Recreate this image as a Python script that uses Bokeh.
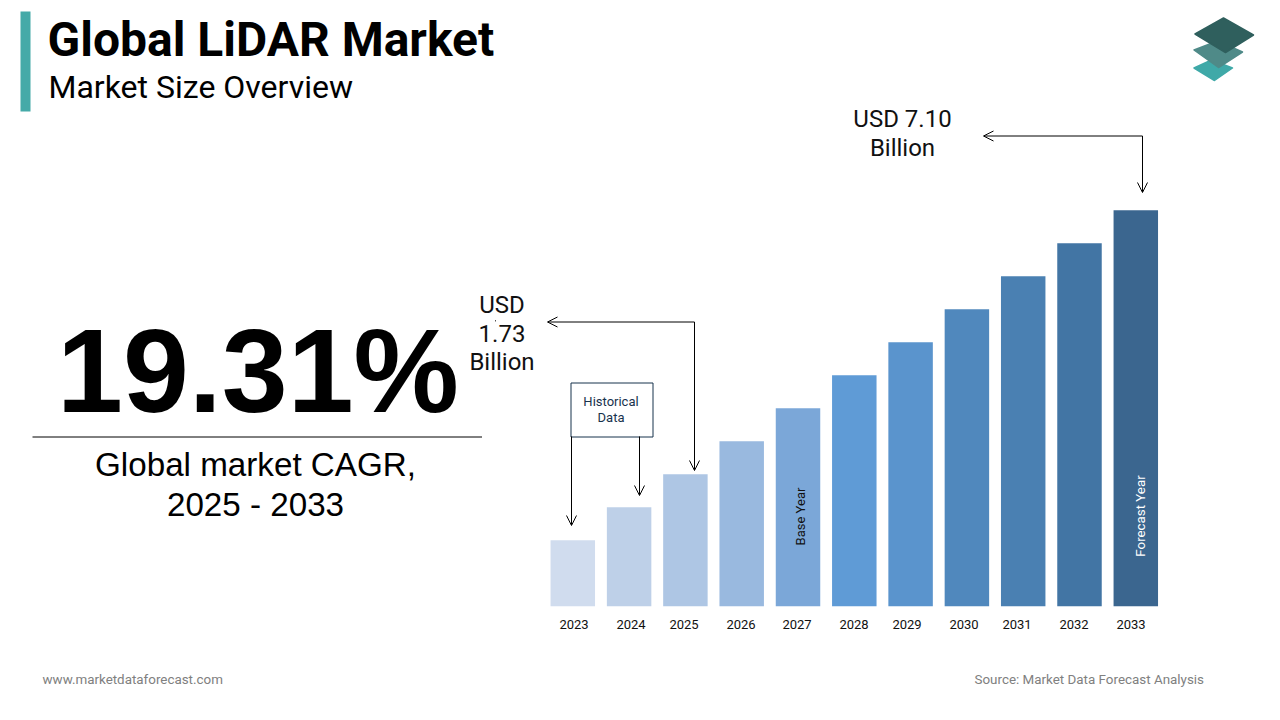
from bokeh.plotting import figure
from bokeh.models import Range1d, Arrow, OpenHead
from bokeh.core.properties import value
from bokeh.embed import file_html
from bokeh.resources import INLINE
import math

years = [2023, 2024, 2025, 2026, 2027, 2028, 2029, 2030, 2031, 2032, 2033]
bar_heights = [2, 3, 4, 5, 6, 7, 8, 9, 10, 11, 12]
bar_colors = ["#d0dcee", "#bed0e8", "#aec6e4", "#99b9df", "#7ba7d8", "#5f9bd6",
              "#5a94cd", "#5088bd", "#4a80b2", "#4275a4", "#3b668f"]
year_labels = [str(y) for y in years]
year_label_x = [573.5, 630.5, 683.5, 740.5, 796.5, 853.5, 906.5, 963.5, 1016.5, 1073.5, 1130.5]

title = "Global LiDAR Market"
subtitle = "Market Size Overview"
cagr = "19.31%"
cagr_lines = ["Global market CAGR,", "2025 - 2033"]
start_lines = ["USD", "1.73", "Billion"]
end_lines = ["USD 7.10", "Billion"]
hist_lines = ["Historical", "Data"]
footer_left = "www.marketdataforecast.com"
footer_right = "Source: Market Data Forecast Analysis"

W, H = 1264, 704
p = figure(width=W, height=H, x_range=Range1d(0, W), y_range=Range1d(H, 0),
           output_backend="svg", toolbar_location=None, min_border=0,
           x_axis_location=None, y_axis_location=None,
           background_fill_color="white", border_fill_color="white")
p.outline_line_color = None
p.grid.visible = False

# bar scales: one year = 56.3 px, one height unit = 33 px, baseline at y=606, 2023 centre at x=572
PX_YEAR, PX_UNIT, BASE_Y, X0 = 56.3, 33.0, 605.7, 572.3
p.extra_x_ranges["year"] = Range1d(2023 - X0 / PX_YEAR, 2023 + (W - X0) / PX_YEAR)
p.extra_y_ranges["unit"] = Range1d((BASE_Y - H) / PX_UNIT, BASE_Y / PX_UNIT)
p.vbar(x=years, top=bar_heights, bottom=0, width=0.79, fill_color=bar_colors, line_color=None,
       x_range_name="year", y_range_name="unit")


def txt(x, y, s, size, font="Roboto", color="#000000", style="normal",
        align="left", base="alphabetic", angle=0.0):
    p.text(x=[x], y=[y], text=[s], text_font=value(font), text_font_size=f"{size}px",
           text_color=color, text_font_style=style, text_align=align,
           text_baseline=base, angle=[angle])


def seg(x0, y0, x1, y1, color="#000000", w=1.0):
    p.line([x0, x1], [y0, y1], line_color=color, line_width=w)


def arrow(x0, y0, x1, y1):
    p.add_layout(Arrow(x_start=x0, y_start=y0, x_end=x1, y_end=y1, line_color="#000000", line_width=1,
                       end=OpenHead(size=10, line_color="#000000", line_width=1)))


# header
p.quad(left=[20], right=[30], top=[11], bottom=[111], fill_color="#45aaa8", line_color=None)
txt(47, 39, title, 48, style="bold")
txt(48, 86, subtitle, 32)

# logo
for xs, ys, c in [
    ([1193.5, 1211, 1232, 1214], [67.5, 59.5, 67.5, 80], "#3fa9a8"),
    ([1193.5, 1217, 1242, 1218], [49.5, 40.5, 51.5, 67], "#4f8a88"),
    ([1194.5, 1223, 1253, 1225], [33.5, 17.5, 34.5, 52], "#2f5f5d"),
]:
    p.patch(xs, ys, fill_color=c, line_color=c, line_width=1.5, line_join="round")

# CAGR block
txt(257.5, 370, cagr, 118.5, font="Liberation Sans", style="bold", align="center")
seg(32, 436.5, 481.5, 436.5)
txt(255, 464, cagr_lines[0], 33.2, font="Liberation Sans", align="center")
txt(255, 504, cagr_lines[1], 33.2, font="Liberation Sans", align="center")

# value labels
for y, s in zip([304, 333, 361], start_lines):
    txt(501.5, y, s, 24, align="center", color="#111111")
for y, s in zip([118, 147], end_lines):
    txt(902, y, s, 24, align="center", color="#111111")
seg(495, 319.5, 495, 321, color="#555555")

# arrows
arrow(694, 321.5, 547, 321.5)
arrow(694, 321.5, 694, 470)
arrow(1142, 135.5, 983, 135.5)
arrow(1142, 135.5, 1142, 192)
arrow(571, 436, 571, 525)
arrow(639, 436, 639, 495)

# historical box
p.quad(left=[570.5], right=[652.5], top=[382.5], bottom=[436.5], fill_color="white",
       line_color="#17324d", line_width=1)
txt(610.5, 401, hist_lines[0], 13, align="center", color="#17324d")
txt(610.5, 417, hist_lines[1], 13, align="center", color="#17324d")

# in-bar labels
txt(800, 516, "Base Year", 13, align="center", base="middle", angle=math.pi / 2, color="#111111")
txt(1139.5, 515.5, "Forecast Year", 13.3, align="center", base="middle", angle=math.pi / 2, color="#ffffff")

# year labels
p.text(x=year_label_x, y=[624] * len(years), text=year_labels, text_font=value("Roboto"),
       text_font_size="13px", text_color="#111111", text_align="center", text_baseline="alphabetic")

# footer
txt(42, 679, footer_left, 13.4, color="#808080")
txt(1203.5, 679, footer_right, 13.4, align="right", color="#808080")

open("out.html", "w").write(file_html(p, INLINE))
